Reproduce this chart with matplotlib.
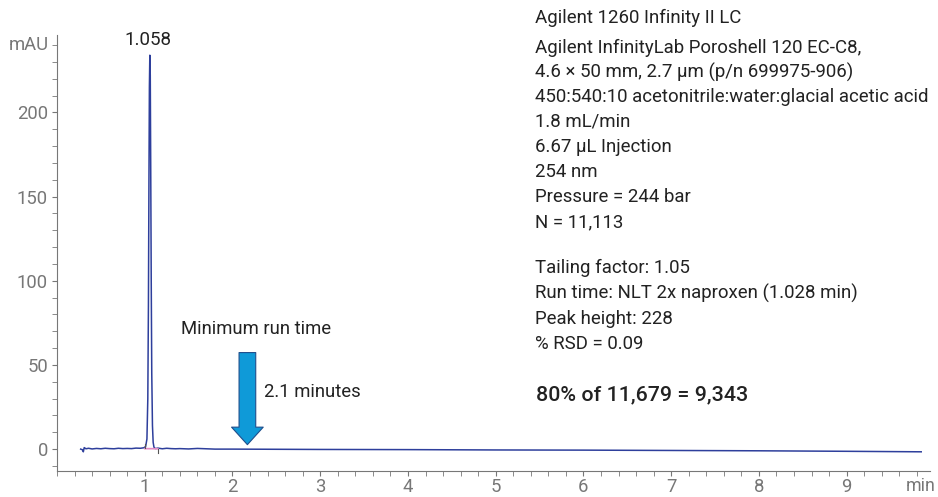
import matplotlib.pyplot as plt
from matplotlib.ticker import MultipleLocator

plt.rcParams['font.family'] = ['Roboto', 'DejaVu Sans']

# chromatogram (time in min, signal in mAU)
time_min = [0.27, 0.29, 0.30, 0.31, 0.33, 0.36, 0.40, 0.45, 0.50, 0.55, 0.60, 0.65, 0.70,
            0.75, 0.80, 0.85, 0.90, 0.95, 0.99, 1.01, 1.025, 1.035, 1.042, 1.048, 1.053,
            1.058, 1.063, 1.068, 1.074, 1.080, 1.088, 1.096, 1.105, 1.12, 1.15, 1.20,
            1.25, 1.30, 1.35, 1.40, 1.50, 1.60, 1.80, 2.00, 2.50, 3.00, 4.00, 5.00, 6.00,
            7.00, 8.00, 9.00, 9.85]
signal_mau = [0.0, -0.4, -1.6, 0.9, 0.2, 0.5, 0.1, 0.4, 0.2, 0.5, 0.3, 0.2, 0.5,
              0.3, 0.4, 0.3, 0.6, 0.5, 0.8, 1.5, 6.0, 30.0, 85.0, 160.0, 215.0,
              234.0, 222.0, 170.0, 100.0, 45.0, 14.0, 4.0, 1.2, 0.3, 0.6, 0.2,
              0.5, 0.3, 0.2, 0.3, 0.1, 0.4, 0.0, 0.0, -0.1, -0.2, -0.3, -0.5, -0.6,
              -0.8, -1.0, -1.3, -1.6]

peak_rt = 1.058
peak_label = "1.058"
arrow_rt = 2.17
arrow_top, arrow_tip = 59.0, 1.0

# right-hand text block: (text, vertical centre in pixels from top)
method_lines = [
    ("Agilent 1260 Infinity II LC", 18),
    ("Agilent InfinityLab Poroshell 120 EC-C8,", 48),
    ("4.6 \u00d7 50 mm, 2.7 \u00b5m (p/n 699975-906)", 72),
    ("450:540:10 acetonitrile:water:glacial acetic acid", 97),
    ("1.8 mL/min", 122),
    ("6.67 \u00b5L Injection", 147),
    ("254 nm", 172),
    ("Pressure = 244 bar", 197),
    ("N = 11,113", 222),
    ("Tailing factor: 1.05", 268),
    ("Run time: NLT 2x naproxen (1.028 min)", 293),
    ("Peak height: 228", 319),
    ("% RSD = 0.09", 344),
]
summary = ("80% of 11,679 = 9,343", 395)

W, H = 938, 497
gray = "#777777"
dark = "#222222"
fig = plt.figure(figsize=(W / 100, H / 100), dpi=100)
ax = fig.add_axes([57 / W, 1 - 471 / H, 873 / W, 436 / H])

ax.plot(time_min, signal_mau, color="#2e3f9c", lw=1.1)
# integration baseline under the peak
ax.plot([1.0, 1.15], [0.3, 0.2], color="#e48bc4", lw=1.2)
ax.plot([1.0, 1.0], [0.5, 3.0], color="#555555", lw=0.8)
ax.plot([1.15, 1.15], [-2.5, 0.0], color="#555555", lw=0.8)

ax.text(peak_rt - 0.02, 243, peak_label, ha="center", va="center", fontsize=13.5, color=dark)

ax.set_xlim(0, 9.95)
ax.set_ylim(-13, 246)
ax.set_xticks([1, 2, 3, 4, 5, 6, 7, 8, 9])
ax.set_yticks([0, 50, 100, 150, 200])
ax.xaxis.set_minor_locator(MultipleLocator(0.2))
ax.yaxis.set_minor_locator(MultipleLocator(10))
for s in ["top", "right"]:
    ax.spines[s].set_visible(False)
for s in ["left", "bottom"]:
    ax.spines[s].set_color(gray)
ax.tick_params(which="both", colors=gray, labelsize=13.3, labelcolor=gray, length=3.5)
ax.tick_params(axis="x", pad=1.5)
ax.tick_params(axis="y", pad=3)

ax.text(-0.09, 240, "mAU", ha="right", va="center", fontsize=13.3, color=gray)
fig.text(936 / W, 1 - 486 / H, "min", ha="right", va="center", fontsize=12.8, color=gray)

# minimum run time arrow
ax.annotate("", xy=(arrow_rt, arrow_tip), xytext=(arrow_rt, arrow_top),
            arrowprops=dict(arrowstyle="simple,head_width=1.9,head_length=1.05,tail_width=1.0",
                            fc="#0f9ad8", ec="#1f4e8c", lw=0.8, mutation_scale=12))
ax.text(1.41, 71.3, "Minimum run time", ha="left", va="center", fontsize=13.3, color=dark)
ax.text(2.36, 34, "2.1 minutes", ha="left", va="center", fontsize=13.3, color=dark)

# method text block
for t, y in method_lines:
    fig.text(535 / W, 1 - y / H, t, ha="left", va="center", fontsize=13.4, color=dark)
fig.text(536 / W, 1 - summary[1] / H, summary[0], ha="left", va="center", fontsize=15.4,
         fontweight="medium", color=dark)

fig.savefig("out.png", dpi=100)
